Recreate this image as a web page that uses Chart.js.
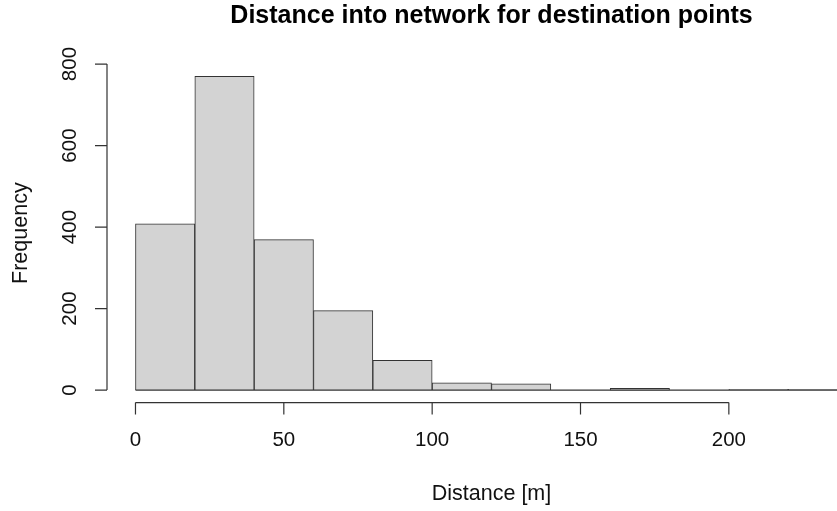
<!DOCTYPE html>
<html>
<head>
<meta charset="utf-8">
<script src="https://cdn.jsdelivr.net/npm/chart.js@4/dist/chart.umd.min.js"></script>
<style>
  html, body { margin: 0; padding: 0; background: #fff; }
  #wrap { width: 837px; height: 511px; overflow: hidden; }
  canvas { display: block; }
</style>
</head>
<body>
<div id="wrap"><canvas id="hist" width="900" height="511"></canvas></div>
<script>
  // === Histogram data (bins of 20 m) ===
  const binEdges = [0, 20, 40, 60, 80, 100, 120, 140, 160, 180, 200, 220, 240];
  const counts = [408, 770, 369, 195, 73, 18, 15, 0, 4, 0, 2, 2];
  const xTicks = [0, 50, 100, 150, 200];
  const yTicks = [0, 200, 400, 600, 800];

  const titleText = 'Distance into network for destination points';
  const xTitle = 'Distance [m]';
  const yTitle = 'Frequency';

  const FONT = '"Liberation Sans", Arial, Helvetica, sans-serif';

  const barData = counts.map((c, i) => ({ x: (binEdges[i] + binEdges[i + 1]) / 2, y: c }));

  // R-style axes: line only spans first..last tick, ticks outward, rotated y labels
  const rAxes = {
    id: 'rAxes',
    afterDatasetsDraw(chart) {
      const { ctx, scales: { x, y } } = chart;
      ctx.save();
      ctx.strokeStyle = '#333';
      ctx.lineWidth = 1.2;

      // baseline under the bars
      const y0 = y.getPixelForValue(0);
      ctx.beginPath();
      ctx.moveTo(x.getPixelForValue(binEdges[0]), y0);
      ctx.lineTo(x.getPixelForValue(binEdges[binEdges.length - 1]), y0);
      ctx.stroke();
      ctx.restore();
    },
    afterDraw(chart) {
      const { ctx, chartArea, scales: { x, y } } = chart;
      ctx.save();
      ctx.strokeStyle = '#333';
      ctx.lineWidth = 1.2;
      ctx.fillStyle = '#111';

      // x axis
      const ax = chartArea.bottom;
      ctx.beginPath();
      ctx.moveTo(x.getPixelForValue(xTicks[0]), ax);
      ctx.lineTo(x.getPixelForValue(xTicks[xTicks.length - 1]), ax);
      xTicks.forEach(t => {
        const px = x.getPixelForValue(t);
        ctx.moveTo(px, ax);
        ctx.lineTo(px, ax + 12);
      });
      ctx.stroke();
      ctx.font = '20.5px ' + FONT;
      ctx.textAlign = 'center';
      ctx.textBaseline = 'middle';
      xTicks.forEach(t => ctx.fillText(String(t), x.getPixelForValue(t), ax + 38));

      // y axis
      const ay = chartArea.left;
      ctx.beginPath();
      ctx.moveTo(ay, y.getPixelForValue(yTicks[0]));
      ctx.lineTo(ay, y.getPixelForValue(yTicks[yTicks.length - 1]));
      yTicks.forEach(t => {
        const py = y.getPixelForValue(t);
        ctx.moveTo(ay, py);
        ctx.lineTo(ay - 12, py);
      });
      ctx.stroke();
      yTicks.forEach(t => {
        ctx.save();
        ctx.translate(ay - 37, y.getPixelForValue(t));
        ctx.rotate(-Math.PI / 2);
        ctx.fillText(String(t), 0, 0);
        ctx.restore();
      });

      // axis titles
      ctx.font = '21.5px ' + FONT;
      ctx.fillText(xTitle, (chartArea.left + chartArea.right) / 2, 494);
      ctx.save();
      ctx.translate(21, (chartArea.top + chartArea.bottom) / 2);
      ctx.rotate(-Math.PI / 2);
      ctx.fillText(yTitle, 0, 0);
      ctx.restore();

      // main title
      ctx.font = 'bold 25px ' + FONT;
      ctx.fillStyle = '#000';
      ctx.fillText(titleText, (chartArea.left + chartArea.right) / 2, 16);
      ctx.restore();
    }
  };

  const chart = new Chart(document.getElementById('hist').getContext('2d'), {
    type: 'bar',
    data: {
      datasets: [{
        data: barData,
        backgroundColor: '#d3d3d3',
        borderColor: '#333',
        borderWidth: 1,
        borderSkipped: 'start',
        barPercentage: 1,
        categoryPercentage: 1,
        grouped: false
      }]
    },
    options: {
      responsive: false,
      animation: false,
      layout: { padding: { left: 107, top: 63.7, right: 24, bottom: 108.4 } },
      plugins: { legend: { display: false }, title: { display: false }, tooltip: { enabled: false } },
      scales: {
        x: { type: 'linear', min: -9.6, max: 249.6, offset: false, grid: { offset: false }, display: false },
        y: { type: 'linear', min: -30.8, max: 800.8, display: false }
      }
    },
    plugins: [rAxes]
  });
</script>
</body>
</html>
